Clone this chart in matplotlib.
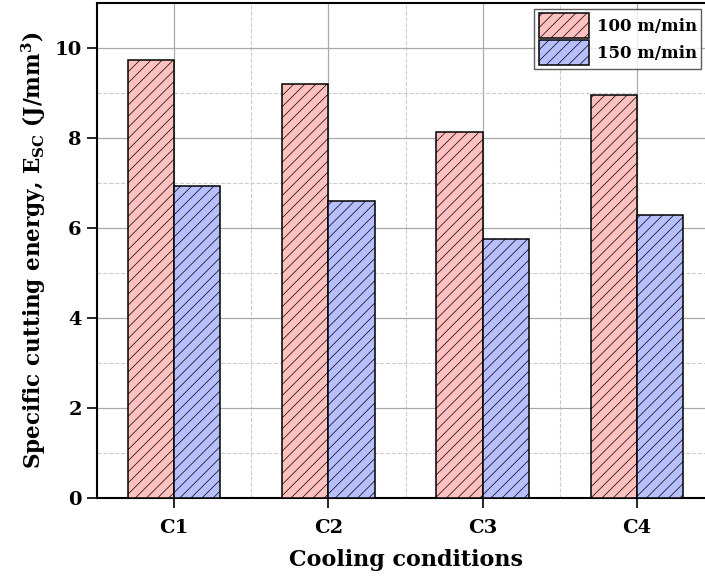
import numpy as np
import matplotlib
matplotlib.use("Agg")
import matplotlib.pyplot as plt
from matplotlib.ticker import MultipleLocator

conditions = ["C1", "C2", "C3", "C4"]
speed_labels = ["100 m/min", "150 m/min"]
esc_100 = [9.72, 9.18, 8.13, 8.95]
esc_150 = [6.92, 6.60, 5.75, 6.29]

plt.rcParams["font.family"] = "DejaVu Serif"
plt.rcParams["font.weight"] = "bold"
plt.rcParams["mathtext.fontset"] = "dejavuserif"
plt.rcParams["mathtext.default"] = "bf"
plt.rcParams["hatch.linewidth"] = 0.5


def plot_bars(output_path):
    fig = plt.figure(figsize=(7.05, 5.81), dpi=100)
    ax = fig.add_axes([97 / 705, 1 - 498 / 581, 617 / 705, 495.5 / 581])

    x = np.arange(1, len(conditions) + 1)
    w = 0.3
    ax.bar(x - w / 2, esc_100, w, color="#FFC0C0", edgecolor="black",
           linewidth=1.1, hatch="///", label=speed_labels[0], zorder=3)
    ax.bar(x + w / 2, esc_150, w, color="#B8BFFF", edgecolor="black",
           linewidth=1.1, hatch="///", label=speed_labels[1], zorder=3)

    ax.set_xlim(0.5, 4.5)
    ax.set_ylim(0, 11)
    ax.set_xticks(x)
    ax.set_xticklabels(conditions)
    ax.xaxis.set_minor_locator(MultipleLocator(0.5))
    ax.yaxis.set_major_locator(MultipleLocator(2))
    ax.yaxis.set_minor_locator(MultipleLocator(1))

    ax.grid(which="major", color="#AAAAAA", linestyle="-", linewidth=0.9, zorder=0)
    ax.grid(which="minor", color="#CCCCCC", linestyle="--", linewidth=0.8, zorder=0)
    ax.set_axisbelow(True)

    ax.tick_params(which="major", direction="out", length=7, width=1.2,
                   labelsize=14, pad=4)
    ax.tick_params(axis="x", which="major", pad=8)
    ax.tick_params(which="minor", length=0)
    for s in ax.spines.values():
        s.set_linewidth(1.5)

    ax.set_xlabel("Cooling conditions", fontsize=16, fontweight="bold", labelpad=9)
    ax.set_ylabel("Specific cutting energy, E$_{\\mathregular{SC}}$ (J/mm$^3$)",
                  fontsize=15.5, fontweight="bold", labelpad=5)

    leg = ax.legend(loc="upper left", bbox_to_anchor=(0.709, 0.987),
                    fontsize=12, frameon=True, fancybox=False,
                    edgecolor="#333333", handlelength=3.0, handleheight=1.9,
                    borderpad=0.25, labelspacing=0.15, handletextpad=0.5,
                    borderaxespad=0)
    leg.get_frame().set_linewidth(1.0)

    fig.savefig(output_path, dpi=100)


def main():
    plot_bars("out.png")


if __name__ == "__main__":
    main()
